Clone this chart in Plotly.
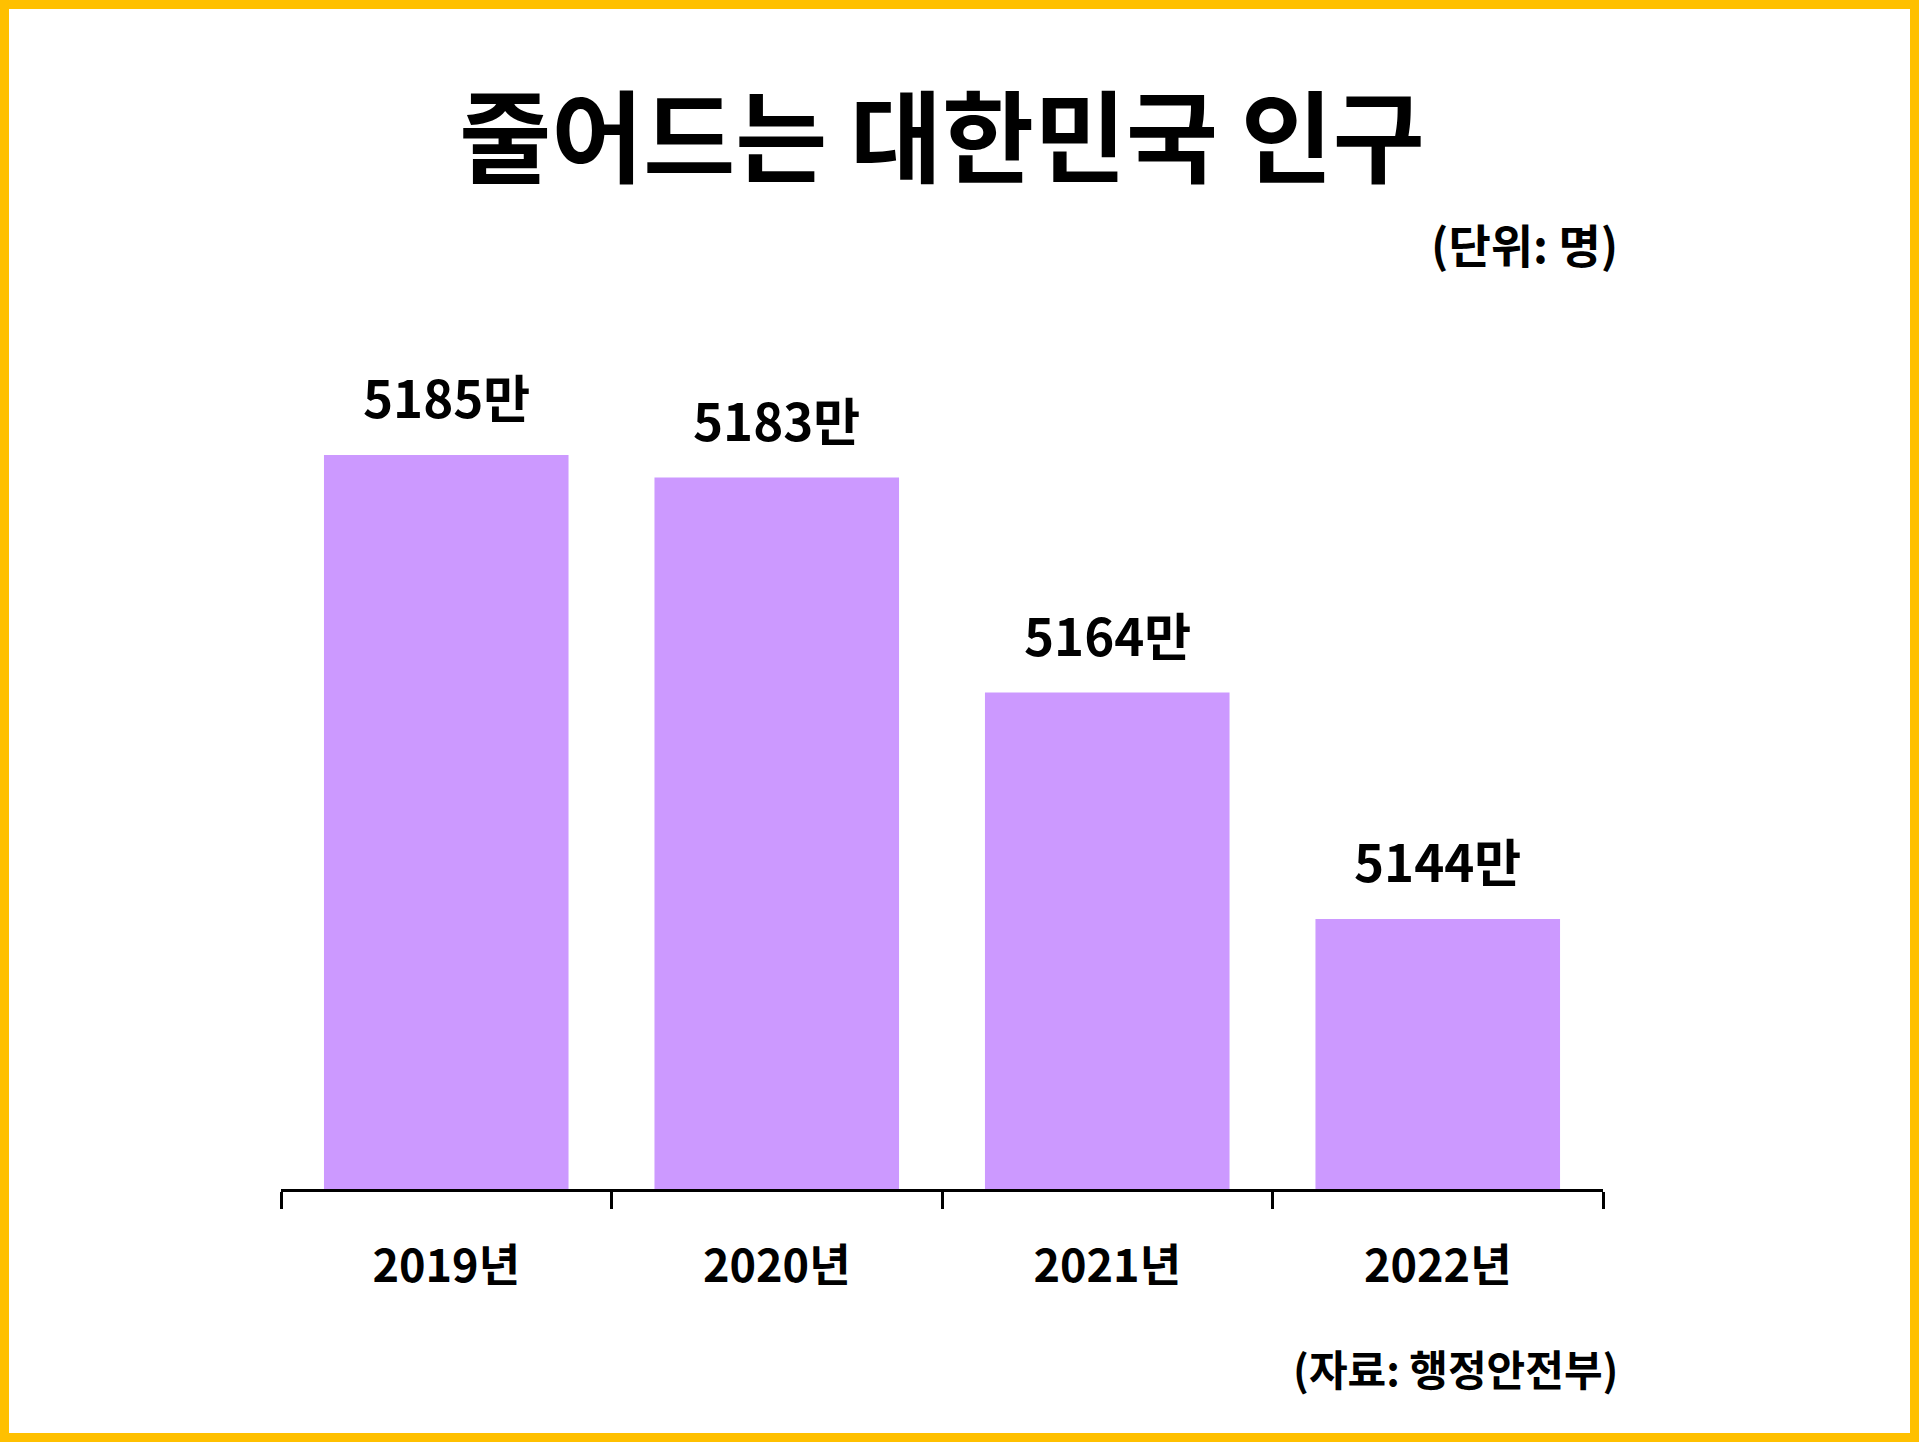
import plotly.graph_objects as go

years = ["2019년", "2020년", "2021년", "2022년"]
population = [5185, 5183, 5164, 5144]  # 단위: 만 명
value_labels = [f"{v}만" for v in population]

W, H = 1919, 1442
ML, MR, MT, MB = 281, 316, 300, 253
FONT = "Noto Sans CJK KR"
BAR_COLOR = "#CC99FF"
BORDER = "#FFC000"

pw = W - ML - MR
ph = H - MT - MB


def px_x(px):
    return (px - ML) / pw


def px_y(px):
    return (H - MB - px) / ph


fig = go.Figure()
fig.add_trace(go.Bar(
    x=years,
    y=population,
    marker=dict(color=BAR_COLOR, line=dict(width=0)),
    hoverinfo="none",
))

for yr, v, lab in zip(years, population, value_labels):
    fig.add_annotation(
        x=yr, y=v, text=lab, showarrow=False,
        yanchor="bottom", yshift=20,
        font=dict(family=FONT, size=51, color="black", weight="bold"),
    )

fig.add_annotation(
    xref="paper", yref="paper", x=px_x(1620), y=px_y(243),
    xanchor="right", yanchor="middle", text="(단위: 명)", showarrow=False,
    font=dict(family=FONT, size=46, color="black", weight="bold"),
)
fig.add_annotation(
    xref="paper", yref="paper", x=px_x(1620), y=px_y(1367),
    xanchor="right", yanchor="middle", text="(자료: 행정안전부)", showarrow=False,
    font=dict(family=FONT, size=42, color="black", weight="bold"),
)

# yellow frame around the whole picture
fig.add_shape(
    type="rect", xref="paper", yref="paper", layer="above",
    x0=px_x(4.5), x1=px_x(W - 4.5), y0=px_y(H - 4.5), y1=px_y(4.5),
    line=dict(color=BORDER, width=9), fillcolor="rgba(0,0,0,0)",
)

fig.update_layout(
    width=W, height=H,
    margin=dict(l=ML, r=MR, t=MT, b=MB),
    paper_bgcolor="white", plot_bgcolor="white",
    showlegend=False,
    bargap=0.26,
    title=dict(
        text="줄어드는 대한민국 인구",
        x=px_x(942), xref="paper", xanchor="center",
        y=1 - 140 / H, yref="container", yanchor="middle",
        font=dict(family=FONT, size=100, color="black", weight="bold"),
    ),
)
fig.update_xaxes(
    showline=True, linecolor="black", linewidth=3,
    ticks="outside", tickson="boundaries", ticklen=17, tickwidth=3, tickcolor="black",
    tickfont=dict(family=FONT, size=45, color="black", weight="bold"),
    ticklabelstandoff=36,
    showgrid=False, zeroline=False,
)
fig.update_yaxes(
    range=[5120.14, 5198.69], visible=False, showgrid=False, zeroline=False,
)

fig.write_html(
    "out.html",
    config={"displayModeBar": False},
    post_script="document.body.style.margin='0';document.body.style.overflow='hidden';",
)
